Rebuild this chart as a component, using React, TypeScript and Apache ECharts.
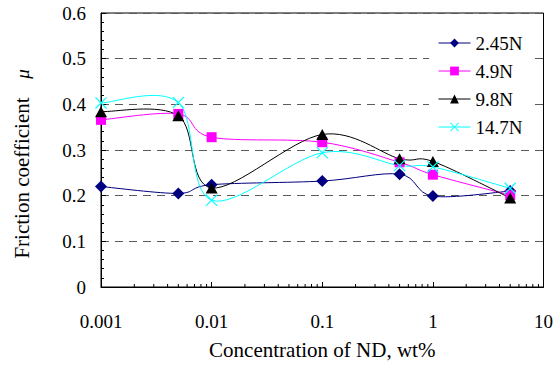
import React, { useEffect, useRef } from "react";
import * as echarts from "echarts";

const concentrations = [0.001, 0.005, 0.01, 0.1, 0.5, 1, 5];
const seriesNames = ["2.45N", "4.9N", "9.8N", "14.7N"];
const load245 = [0.22, 0.205, 0.224, 0.232, 0.247, 0.199, 0.21];
const load49 = [0.366, 0.379, 0.328, 0.317, 0.273, 0.246, 0.201];
const load98 = [0.384, 0.375, 0.217, 0.334, 0.281, 0.275, 0.195];
const load147 = [0.403, 0.404, 0.19, 0.294, 0.266, 0.263, 0.216];
const xMinorTicks = [
  0.002, 0.003, 0.004, 0.005, 0.006, 0.007, 0.008, 0.009,
  0.02, 0.03, 0.04, 0.05, 0.06, 0.07, 0.08, 0.09,
  0.2, 0.3, 0.4, 0.5, 0.6, 0.7, 0.8, 0.9,
  2, 3, 4, 5, 6, 7, 8, 9,
];
const yTitle = "Friction coefficient";
const yTitleSymbol = "μ";
const xTitle = "Concentration of ND, wt%";

const FONT = "Liberation Serif";

const crossPath =
  "path://M0,7 L7,0 L50,43 L93,0 L100,7 L57,50 L100,93 L93,100 L50,57 L7,100 L0,93 L43,50 Z";

export default function App() {
  const ref = useRef<HTMLDivElement>(null);
  useEffect(() => {
    document.body.style.margin = "0";
    const styleEl = document.createElement("style");
    styleEl.textContent =
      '#chart-box, #chart-box text, #chart-box tspan { font-family: "Liberation Serif", "Times New Roman", serif !important; }';
    document.head.appendChild(styleEl);
    const chart = echarts.init(ref.current!, null, { renderer: "svg" });
    const pairs = (ys: number[]) => concentrations.map((x, i) => [x, ys[i]]);
    const colors = ["#000080", "#FF00FF", "#000000", "#00FFFF"];
    const symbols = ["diamond", "rect", "triangle", crossPath];
    const sizes: any[] = [[12, 12], [10, 10], [12, 11], [12, 12]];
    const values = [load245, load49, load98, load147];

    const curveSeries = values.map((ys, k) => ({
      name: "curve" + k,
      type: "custom",
      silent: true,
      data: pairs(ys).slice(0, ys.length - 1),
      renderItem: (params: any, api: any) => {
        const pts = concentrations.map((x, j) => api.coord([x, ys[j]]));
        const i = params.dataIndex;
        const p0 = pts[Math.max(0, i - 1)];
        const p1 = pts[i];
        const p2 = pts[i + 1];
        const p3 = pts[Math.min(pts.length - 1, i + 2)];
        const t = 1 / 6;
        return {
          type: "bezierCurve",
          shape: {
            x1: p1[0],
            y1: p1[1],
            cpx1: p1[0] + (p2[0] - p0[0]) * t,
            cpy1: p1[1] + (p2[1] - p0[1]) * t,
            cpx2: p2[0] - (p3[0] - p1[0]) * t,
            cpy2: p2[1] - (p3[1] - p1[1]) * t,
            x2: p2[0],
            y2: p2[1],
          },
          style: { stroke: colors[k], lineWidth: 1, fill: "none" },
        };
      },
      z: 2 + k,
    }));

    const lineSeries = seriesNames.map((name, k) => ({
      name,
      type: "line",
      data: pairs(values[k]),
      symbol: symbols[k],
      symbolSize: sizes[k],
      showSymbol: true,
      lineStyle: { color: colors[k], width: 1, opacity: 0 },
      itemStyle: { color: colors[k] },
      z: 6 + k,
    }));

    chart.setOption({
      animation: false,
      grid: { left: 101, top: 13, right: 12, bottom: 75, show: true, borderColor: "#000", borderWidth: 1 },
      graphic: [
        {
          type: "text",
          x: 22,
          y: 178,
          rotation: Math.PI / 2,
          style: {
            text: yTitle,
            fontFamily: FONT,
            fontSize: 21,
            fill: "#000",
            align: "center",
            verticalAlign: "middle",
          },
        },
        {
          type: "text",
          x: 22,
          y: 74,
          rotation: Math.PI / 2,
          style: {
            text: yTitleSymbol,
            fontFamily: FONT,
            fontStyle: "italic",
            fontSize: 19,
            fill: "#000",
            align: "center",
            verticalAlign: "middle",
          },
        },
      ],
      legend: {
        data: seriesNames.map((name, k) => ({
          name,
          lineStyle: { color: colors[k], width: 1, opacity: 1 },
        })),
        orient: "vertical",
        left: 429,
        top: 24,
        padding: [8, 12, 8, 9],
        backgroundColor: "#ffffff",
        itemWidth: 32,
        itemHeight: 11,
        itemGap: 6,
        textStyle: { fontFamily: FONT, fontSize: 19, color: "#000", lineHeight: 22 },
        z: 20,
      },
      xAxis: {
        type: "log",
        logBase: 10,
        min: 0.001,
        max: 10,
        axisLine: { lineStyle: { color: "#000", width: 1 } },
        axisTick: { show: true, inside: true, length: 5, lineStyle: { color: "#000" } },
        splitLine: { show: false },
        axisLabel: {
          margin: 25,
          fontSize: 19,
          color: "#000",
          fontFamily: FONT,
          formatter: (v: number) => parseFloat(v.toPrecision(4)).toString(),
        },
        name: xTitle,
        nameLocation: "middle",
        nameGap: 52,
        nameTextStyle: { fontSize: 21, color: "#000", fontFamily: FONT },
      },
      yAxis: {
        type: "value",
        min: 0,
        max: 0.6,
        interval: 0.1,
        axisLine: { show: true, lineStyle: { color: "#000", width: 1 } },
        axisTick: { show: true, inside: true, length: 5, lineStyle: { color: "#000" } },
        minorTick: { show: true, splitNumber: 5, length: 3, lineStyle: { color: "#000" } },
        splitLine: {
          show: true,
          lineStyle: { color: "#5a5a5a", type: [8, 6], width: 1 },
        },
        axisLabel: { margin: 15, fontSize: 19, color: "#000", fontFamily: FONT },
      },
      series: [
        ...curveSeries,
        ...lineSeries,
        {
          name: "minorTicksX",
          type: "custom",
          silent: true,
          data: xMinorTicks.map((v) => [v, 0]),
          renderItem: (params: any, api: any) => {
            const p = api.coord([api.value(0), 0]);
            return {
              type: "line",
              shape: { x1: p[0], y1: p[1], x2: p[0], y2: p[1] - 3 },
              style: { stroke: "#000", lineWidth: 1 },
            };
          },
          z: 1,
        },
      ],
    });
    return () => {
      chart.dispose();
      styleEl.remove();
    };
  }, []);
  return (
    <div
      id="chart-box"
      ref={ref}
      style={{ width: 556, height: 365, fontFamily: "Liberation Serif, serif" }}
    />
  );
}
